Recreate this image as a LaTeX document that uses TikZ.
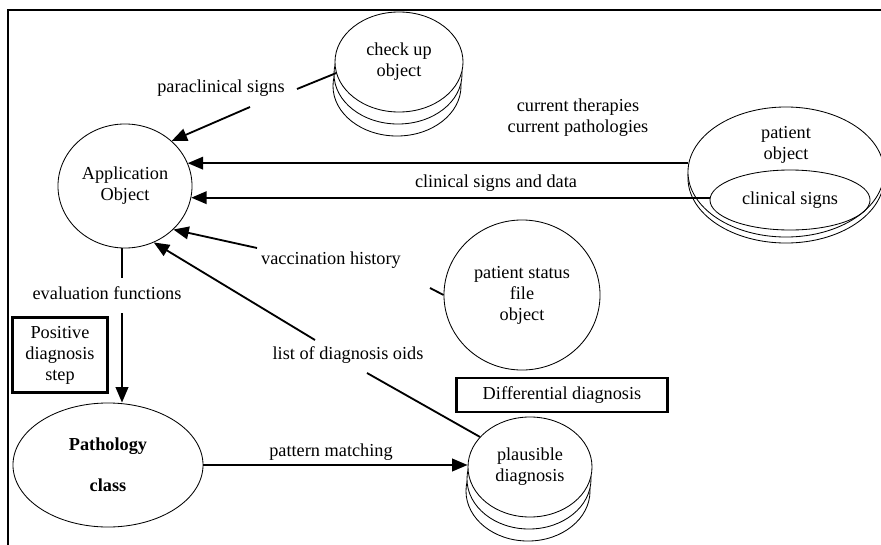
\documentclass[tikz,border=0pt]{standalone}
\usepackage{fontspec}
\setmainfont{Liberation Serif}
\usepackage{tikz}
\usetikzlibrary{arrows.meta,shapes,positioning,shadows}
\tikzstyle{object} = [ellipse, draw, semithick, align=center, inner sep=0pt]
\tikzstyle{stacked} = [object, fill=white,
  general shadow={shadow xshift=-0.05cm, shadow yshift=-0.6cm, draw, semithick, fill=white},
  general shadow={shadow xshift=-0.025cm, shadow yshift=-0.3cm, draw, semithick, fill=white}]
\tikzstyle{stepbox} = [rectangle, draw, line width=1.5pt, align=center]
\tikzstyle{link} = [line width=1.3pt]
\tikzstyle{arrow} = [line width=1.3pt, -{Triangle[length=11pt,width=9pt]}]

\begin{document}
\begin{tikzpicture}[x=0.025cm, y=-0.025cm, font=\fontsize{13}{15}\selectfont]
\useasboundingbox (0,0) rectangle (881,545);
% frame
\draw[line width=1.5pt] (8,545) -- (8,10) -- (881,10);

% objects
\node[object, minimum width=3.35cm, minimum height=3.1cm] (app) at (125,186) {Application\\Object};
\node[stacked, minimum width=3.2cm, minimum height=2.5cm] (chk) at (399,62) {check up\\object};
\node[object, fill=white, minimum width=4.9cm, minimum height=3.25cm,
  general shadow={shadow yshift=-0.15cm, draw, semithick, fill=white},
  label={[align=center, yshift=0.675cm]center:patient\\object}] (pat) at (786,172) {};
\node[object, minimum width=4cm, minimum height=1.5cm] (cs) at (790,200) {clinical signs};
\node[object, minimum width=3.9cm, minimum height=3.75cm] (psf) at (522,295) {patient status\\file\\object};
\node[stacked, minimum width=3.1cm, minimum height=2.5cm] (plaus) at (530,467) {plausible\\diagnosis};
\node[object, minimum width=4.75cm, minimum height=3.1cm, font=\fontsize{13}{15}\selectfont\bfseries] (path) at (108,465) {Pathology\\[14pt]class};

% steps
\node[stepbox, minimum width=2.375cm, minimum height=1.875cm] (pos) at (60,355) {Positive\\diagnosis\\step};
\node[stepbox, minimum width=5.275cm, minimum height=0.85cm] (diff) at (562,395) {Differential diagnosis};

% labels
\node (lpara) at (221,88) {paraclinical signs};
\node[align=center] (lcur) at (578,118) {current therapies\\current pathologies};
\node (lcsd) at (496,183) {clinical signs and data};
\node (lvac) at (331,260) {vaccination history};
\node (leval) at (107,293) {evaluation functions};
\node (llist) at (348,355) {list of diagnosis oids};
\node (lpat) at (331,452) {pattern matching};

% gaps round the labels
\coordinate (pa1) at (297,89);
\coordinate (pa2) at (250,107);
\coordinate (va1) at (430,288);
\coordinate (va2) at (257,248);
\coordinate (li1) at (367,373);
\coordinate (li2) at (315,340);
\coordinate (ev1) at (122,278);
\coordinate (ev2) at (122,313);

% connectors
\draw[link] (chk.190) -- (pa1);
\draw[arrow] (pa2) -- (app.44);
\draw[arrow] (app.20 -| pat.west) -- (app.20);
\draw[arrow] (app.-10 -| cs.west) -- (app.-10);
\draw[link] (psf.west) -- (va1);
\draw[arrow] (va2) -- (app.-42);
\draw[link] (plaus.149) -- (li1);
\draw[arrow] (li2) -- (app.-63);
\draw[link] (app.south -| ev1) -- (ev1);
\draw[arrow] (ev2) -- (ev2 |- path.north);
\draw[arrow] (path.east) -- (path.east -| plaus.west);
\end{tikzpicture}
\end{document}
